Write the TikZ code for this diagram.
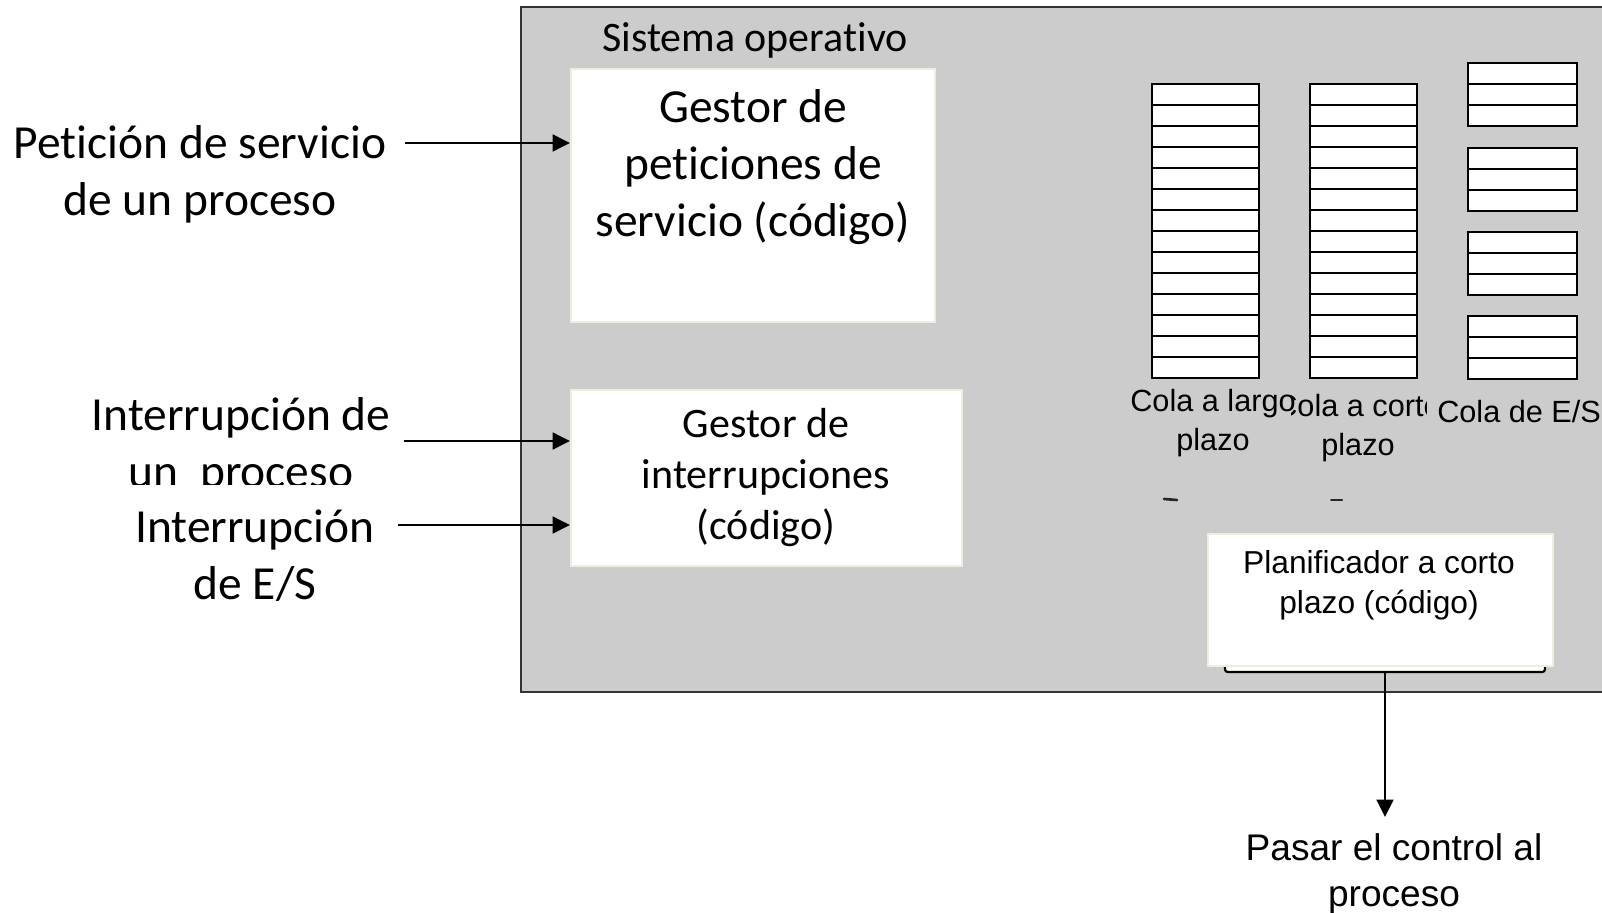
\documentclass[tikz,border=0pt]{standalone}
\usepackage{fontspec}
\setmainfont{Carlito}[Ligatures=NoCommon]
\newfontfamily\arialf{Liberation Sans}
\usetikzlibrary{arrows.meta}
\definecolor{osgray}{HTML}{CCCCCC}
\definecolor{boxedge}{HTML}{EEEEE0}
\definecolor{frame}{HTML}{333333}
\begin{document}
\begin{tikzpicture}[x=0.75pt,y=-0.75pt,
  arr/.style={line width=1.9pt,-{Triangle[length=13pt,width=12.5pt]}},
  wbox/.style={draw=boxedge,line width=1.5pt,fill=white,inner sep=0pt,anchor=north west},
  qcell/.style={draw=black,line width=1.7pt,fill=white},
  bigtxt/.style={font=\fontsize{35.6}{42.75}\selectfont,align=center,inner sep=0pt},
  midtxt/.style={font=\fontsize{31.5}{38.25}\selectfont,align=center,inner sep=0pt},
  qtxt/.style={font=\arialf\fontsize{23}{29}\selectfont,align=center,inner sep=0pt}]
\clip (0,0) rectangle (1602,913);
\fill[white] (0,0) rectangle (1602,913);
% operating system frame
\draw[frame,line width=2.2pt,fill=osgray] (521,7) rectangle (1660,692);
\node[font=\fontsize{31.5}{37}\selectfont,inner sep=0pt] (so) at (755,40) {Sistema operativo};
% boxes
\node[wbox,minimum width=273pt,minimum height=189.75pt] (g1) at (570,68) {};
\node[bigtxt] (g1t) at (753,167) {Gestor de\\peticiones de\\servicio (código)};
\node[wbox,minimum width=293.25pt,minimum height=132pt] (g2) at (570,389) {};
\node[midtxt] (g2t) at (766,478) {Gestor de\\interrupciones\\(código)};
% planner with bracket
\draw[black,line width=1.6pt,rounded corners=2pt,fill=white] (1225,620) rectangle (1545,672);
\node[wbox,minimum width=258.75pt,minimum height=99pt] (plan) at (1207,533) {};
\node[font=\arialf\fontsize{23.8}{30}\selectfont,align=center,inner sep=0pt] (plant) at (1379,585) {Planificador a corto\\plazo (código)};
\coordinate (brk) at (1385,672);
% queues
\foreach \x in {1152,1310}{
  \foreach \k in {0,...,13}{
    \draw[qcell] (\x,84+21*\k) rectangle (\x+107,105+21*\k);
  }
}
\foreach \t in {63,148,232,316}{
  \foreach \k in {0,1,2}{
    \draw[qcell] (1468,\t+21*\k) rectangle (1577,\t+21+21*\k);
  }
}
% queue labels
\begin{scope}
\clip (1291,380) rectangle (1426,470);
\node[qtxt] (qc) at (1358,428) {Cola a corto\\plazo};
\end{scope}
\node[qtxt] (ql) at (1213,423) {Cola a largo\\plazo};
\node[qtxt,anchor=west] (qe) at (1437,412) {Cola de E/S};
% small remnants
\draw[black!85,line width=2pt,line cap=round] (1164,499) -- (1177,500);
\draw[black!85,line width=1.5pt,line cap=round] (1331,500) -- (1342,500);
% left labels
\node[bigtxt] (l1) at (200,174.5) {Petición de servicio\\de un proceso};
\node[bigtxt] (l2) at (241,446.5) {Interrupción de\\un\ \ proceso};
\fill[white] (90,485) rectangle (398,500);
\node[bigtxt] (l3) at (255,556) {Interrupción\\de E/S};
\node[font=\arialf\fontsize{27.8}{35}\selectfont,align=center,inner sep=0pt] (pasar) at (1394,874) {Pasar el control al\\proceso};
% arrows
\coordinate (a1) at (405,143);
\coordinate (a2) at (404,441);
\coordinate (a3) at (398,525);
\draw[arr] (a1) -- (a1 -| g1.west);
\draw[arr] (a2) -- (a2 -| g2.west);
\draw[arr] (a3) -- (a3 -| g2.west);
\coordinate (tipP) at (1385,817);
\draw[arr] (brk) -- (tipP);
\end{tikzpicture}
\end{document}
